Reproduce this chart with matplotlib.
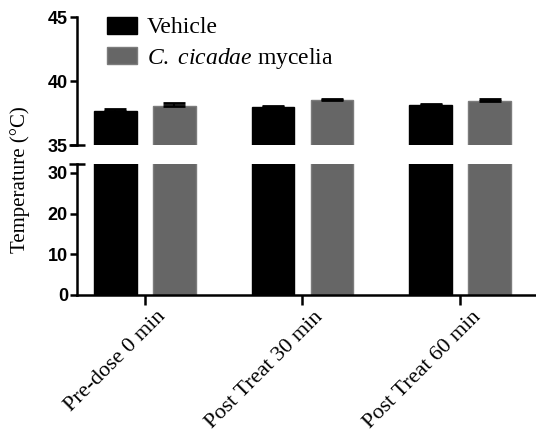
import matplotlib.pyplot as plt
import matplotlib.transforms as mtrans
import numpy as np

groups = ['Pre-dose 0 min', 'Post Treat 30 min', 'Post Treat 60 min']
vehicle = [37.66, 37.94, 38.15]
vehicle_err = [0.18, 0.12, 0.08]
mycelia = [38.07, 38.49, 38.41]
mycelia_err = [0.19, 0.13, 0.18]

plt.rcParams['mathtext.fontset'] = 'custom'
plt.rcParams['mathtext.rm'] = 'Liberation Serif'
plt.rcParams['mathtext.it'] = 'Liberation Serif:italic'

fig = plt.figure(figsize=(5.36, 4.37), dpi=100)
ax_top = fig.add_axes([0.1437, 0.668, 0.856, 0.293])
ax_bot = fig.add_axes([0.1437, 0.325, 0.856, 0.30])

x = np.arange(len(groups))
w = 0.272
off = 0.187
black = '#000000'
grey = '#666666'
lw = 1.8

for ax in (ax_top, ax_bot):
    ax.bar(x - off, vehicle, w, color=black, edgecolor=black, label='Vehicle',
           yerr=[[0] * 3, vehicle_err], capsize=8,
           error_kw=dict(ecolor=black, elinewidth=1.5, capthick=2))
    ax.bar(x + off, mycelia, w, color=grey, edgecolor='#7c7c7c', linewidth=1,
           label=r'$\mathit{C.\ cicadae}$ mycelia',
           yerr=[[0] * 3, mycelia_err], capsize=8,
           error_kw=dict(ecolor=black, elinewidth=1.5, capthick=2))
    ax.set_xlim(-0.43, 2.48)
    ax.spines['top'].set_visible(False)
    ax.spines['right'].set_visible(False)
    ax.spines['left'].set_linewidth(lw)
    ax.spines['bottom'].set_linewidth(lw)
    ax.tick_params(axis='y', width=lw, length=5, labelsize=13, pad=1.5)
    for t in ax.get_yticklabels():
        t.set_fontfamily('Liberation Sans')
        t.set_fontweight('bold')

ax_top.set_ylim(35, 45)
ax_top.set_yticks([35, 40, 45])
ax_top.spines['bottom'].set_visible(False)
ax_top.tick_params(axis='x', bottom=False, labelbottom=False)

ax_bot.set_ylim(0, 32.2)
ax_bot.set_yticks([0, 10, 20, 30])
ax_bot.set_xticks(x)
ax_bot.set_xticklabels(groups, rotation=45, ha='right', rotation_mode='anchor',
                       fontfamily='Liberation Serif', fontsize=16)
ax_bot.tick_params(axis='x', width=lw, length=7, pad=2)
shift = mtrans.ScaledTranslation(11 / 100, 0, fig.dpi_scale_trans)
for t in ax_bot.get_xticklabels():
    t.set_transform(t.get_transform() + shift)

# break markers
for ax, yv in ((ax_top, 35), (ax_bot, 32.2)):
    tr = mtrans.blended_transform_factory(ax.transAxes, ax.transData)
    ax.plot([-0.017, 0.017], [yv, yv], color='black', lw=lw, transform=tr,
            clip_on=False, solid_capstyle='butt')

fig.text(0.038, 0.59, 'Temperature (\u00b0C)', rotation=90, ha='center', va='center',
         fontfamily='Liberation Serif', fontsize=15)

leg = ax_top.legend(loc='upper left', bbox_to_anchor=(0.02, 1.17), frameon=False,
                    prop={'family': 'Liberation Serif', 'size': 17},
                    handlelength=1.27, handleheight=0.76, handletextpad=0.4,
                    labelspacing=0.3)

fig.savefig('out.png', dpi=100)
